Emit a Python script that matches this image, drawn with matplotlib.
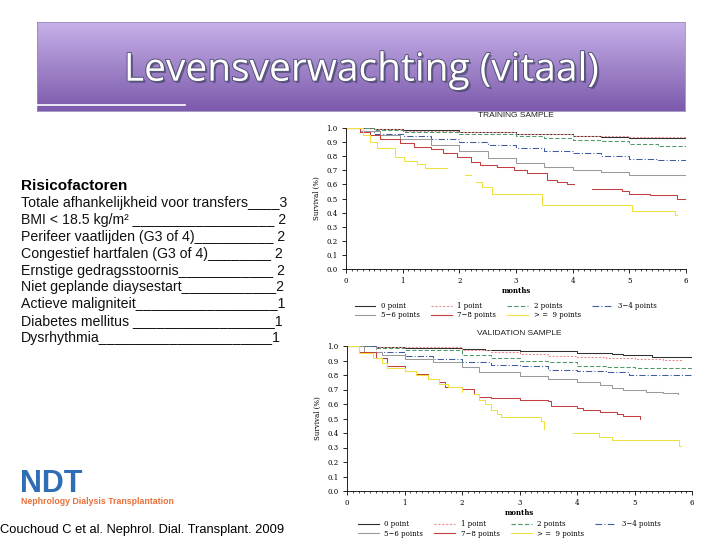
import matplotlib
matplotlib.use('Agg')
import matplotlib.pyplot as plt
import matplotlib.ticker as tck
import matplotlib.patheffects as pe
import numpy as np

# ---------- DATA ----------
title = 'Levensverwachting (vitaal)'
risk_header = 'Risicofactoren'
# label (before the underscores), score (after them)
risk_labels = [
    'Totale afhankelijkheid voor transfers',
    'BMI < 18.5 kg/m\u00b2 ',
    'Perifeer vaatlijden (G3 of 4)',
    'Congestief hartfalen (G3 of 4)',
    'Ernstige gedragsstoornis',
    'Niet geplande diaysestart',
    'Actieve maligniteit',
    'Diabetes mellitus ',
    'Dysrhythmia',
]
risk_scores = ['3', ' 2', ' 2', ' 2', ' 2', '2', '1', '1', '1']
citation = 'Couchoud C et al. Nephrol. Dial. Transplant. 2009'

groups = ['0 point', '1 point', '2 points', '3\u22124 points',
          '5\u22126 points', '7\u22128 points', '> =  9 points']

# training sample: (time, survival) step points per group
train_t = {
    '0 point':  [0, 0.5, 1, 2, 3, 4, 4.5, 5, 6],
    '1 point':  [0, 0.5, 1, 2, 3, 4, 5, 6],
    '2 points': [0, 0.5, 1, 2, 3, 3.5, 4, 4.5, 5, 5.5, 6],
    '3-4':      [0, 0.25, 0.5, 1, 1.5, 2, 2.5, 3, 3.5, 4, 4.5, 5, 5.5, 6],
    '5-6':      [0, 0.25, 0.6, 0.96, 1.5, 2, 2.5, 3, 3.5, 4, 4.5, 5, 6],
    '7-8a':     [0, 0.25, 0.43, 0.6, 0.96, 1.2, 1.5, 1.72, 1.96, 2.2, 2.37,
                 2.66, 2.96, 3.2, 3.55, 3.72, 3.9, 4.02],
    '7-8b':     [4.34, 4.87, 4.99, 5.37, 5.84, 6.0],
    '9a':       [0, 0.3, 0.43, 0.55, 0.87, 1.02, 1.25, 1.4, 1.78],
    '9b':       [2.1, 2.2],
    '9c':       [2.3, 2.4, 2.58, 3.46, 5.05, 5.81, 5.84],
}
train_s = {
    '0 point':  [1.0, 0.995, 0.985, 0.975, 0.96, 0.945, 0.935, 0.93, 0.92],
    '1 point':  [1.0, 0.99, 0.98, 0.97, 0.96, 0.945, 0.935, 0.915],
    '2 points': [1.0, 0.985, 0.975, 0.96, 0.94, 0.93, 0.915, 0.905, 0.89,
                 0.875, 0.86],
    '3-4':      [1.0, 0.98, 0.96, 0.94, 0.92, 0.90, 0.88, 0.86, 0.84, 0.82,
                 0.80, 0.78, 0.77, 0.75],
    '5-6':      [1.0, 0.98, 0.95, 0.92, 0.88, 0.84, 0.79, 0.75, 0.72, 0.70,
                 0.685, 0.665, 0.655],
    '7-8a':     [1.0, 0.97, 0.95, 0.925, 0.895, 0.865, 0.85, 0.82, 0.795, 0.76,
                 0.74, 0.72, 0.70, 0.68, 0.63, 0.615, 0.60, 0.60],
    '7-8b':     [0.565, 0.55, 0.53, 0.525, 0.50, 0.49],
    '9a':       [1.0, 0.95, 0.90, 0.855, 0.795, 0.765, 0.745, 0.715, 0.715],
    '9b':       [0.67, 0.67],
    '9c':       [0.62, 0.585, 0.535, 0.455, 0.41, 0.38, 0.38],
}

# validation sample
valid_t = {
    '0 point':  [0, 0.5, 1, 2, 2.4, 3, 4, 4.6, 4.8, 5.3, 6],
    '1 point':  [0, 0.5, 1, 2, 2.5, 3, 3.5, 4, 4.5, 5, 5.5, 5.8],
    '2 points': [0, 0.5, 1, 2, 2.5, 3, 3.5, 4, 4.5, 5, 6],
    '3-4':      [0, 0.5, 1, 1.5, 2, 2.5, 3, 3.5, 4, 4.5, 4.9, 6],
    '5-6':      [0, 0.3, 0.6, 1, 1.5, 2, 2.3, 3, 3.5, 4, 4.4, 4.6, 4.8, 5.2,
                 5.5, 5.75],
    '7-8':      [0, 0.2, 0.5, 0.7, 1, 1.2, 1.4, 1.6, 1.7, 2, 2.2, 2.3, 2.5, 3,
                 3.5, 3.55, 4, 4.1, 4.4, 4.7, 4.8, 5.1],
    '9a':       [0, 0.2, 0.45, 0.6, 0.7, 1, 1.2, 1.4, 1.6, 1.75, 2.0],
    '9b':       [2.2, 2.3, 2.4, 2.5, 2.6, 2.67, 3.38, 3.42],
    '9c':       [3.93, 4.39, 4.6, 5.64, 5.78, 5.8],
}
valid_s = {
    '0 point':  [1.0, 0.995, 0.985, 0.98, 0.975, 0.965, 0.955, 0.947, 0.935,
                 0.925, 0.915],
    '1 point':  [1.0, 0.995, 0.99, 0.975, 0.96, 0.947, 0.93, 0.925, 0.915,
                 0.91, 0.905, 0.90],
    '2 points': [1.0, 0.985, 0.97, 0.94, 0.92, 0.897, 0.89, 0.86, 0.855,
                 0.845, 0.833],
    '3-4':      [1.0, 0.96, 0.93, 0.91, 0.89, 0.87, 0.86, 0.837, 0.83, 0.82,
                 0.803, 0.79],
    '5-6':      [1.0, 0.96, 0.94, 0.913, 0.89, 0.853, 0.821, 0.794, 0.775,
                 0.752, 0.73, 0.71, 0.695, 0.68, 0.675, 0.667],
    '7-8':      [1.0, 0.96, 0.92, 0.86, 0.83, 0.805, 0.77, 0.75, 0.72, 0.706,
                 0.67, 0.649, 0.64, 0.63, 0.619, 0.585, 0.575, 0.56, 0.545,
                 0.53, 0.518, 0.50],
    '9a':       [1.0, 0.954, 0.917, 0.88, 0.849, 0.828, 0.80, 0.77, 0.74,
                 0.718, 0.683],
    '9b':       [0.67, 0.63, 0.603, 0.56, 0.53, 0.511, 0.482, 0.43],
    '9c':       [0.397, 0.37, 0.355, 0.35, 0.31, 0.31],
}

# ---------- STYLES ----------
styles = {
    '0 point':  dict(color='#303030', ls='-'),
    '1 point':  dict(color='#E88C8C', ls=(0, (2, 1.5))),
    '2 points': dict(color='#4E9A6A', ls=(0, (4, 2))),
    '3-4':      dict(color='#3E5EA0', ls=(0, (6, 2, 1, 2))),
    '5-6':      dict(color='#9A9A9A', ls='-'),
    '7-8':      dict(color='#C44040', ls='-'),
    '9':        dict(color='#F0E040', ls='-'),
}
legend_keys = ['0 point', '1 point', '2 points', '3-4', '5-6', '7-8', '9']
# legend is filled column by column, this gives rows 0,1,2,3-4 / 5-6,7-8,>=9
legend_order = [0, 4, 1, 5, 2, 6, 3]


def px(x0, y0, x1, y1):
    return [x0 / 720, 1 - y1 / 540, (x1 - x0) / 720, (y1 - y0) / 540]


def style_of(key):
    for k in ['7-8', '9']:
        if key.startswith(k):
            return styles[k]
    return styles[key]


def km_panel(ax, tt, ss, name, leg_y):
    for key in tt:
        st = style_of(key)
        ax.step(tt[key], ss[key], where='post', lw=0.75, **st)
    ax.set_xlim(0, 6)
    ax.set_ylim(0, 1.0)
    for s in ['top', 'right']:
        ax.spines[s].set_visible(False)
    for s in ['left', 'bottom']:
        ax.spines[s].set_linewidth(0.6)
    ax.set_xticks(range(7))
    ax.set_yticks(np.arange(0, 1.01, 0.1))
    ax.set_yticklabels(['%.1f' % v for v in np.arange(0, 1.01, 0.1)])
    ax.xaxis.set_minor_locator(tck.MultipleLocator(0.1))
    ax.tick_params(which='major', length=3, width=0.6, labelsize=5, pad=3)
    ax.tick_params(which='minor', length=1.5, width=0.5)
    for lab in ax.get_xticklabels() + ax.get_yticklabels():
        lab.set_family('DejaVu Serif')
    ax.set_xlabel('months', fontsize=5, family='DejaVu Serif', weight='bold',
                  labelpad=1)
    ax.set_ylabel('Survival (%)', fontsize=5, family='DejaVu Serif',
                  labelpad=4)
    ax.set_title(name, fontsize=6, family='Liberation Sans', pad=8,
                 color='#222222')
    handles = []
    for k in legend_keys:
        h, = ax.plot([], [], lw=0.8, **styles[k])
        handles.append(h)
    ax.legend([handles[i] for i in legend_order],
              [groups[i] for i in legend_order],
              loc='upper center', bbox_to_anchor=(0.47, leg_y),
              ncol=4, frameon=False, prop={'family': 'DejaVu Serif', 'size': 5},
              handlelength=3, columnspacing=1.6, labelspacing=0.2,
              handletextpad=0.8)


fig = plt.figure(figsize=(7.2, 5.4), dpi=100)

# ---------- TITLE BANNER ----------
ban = fig.add_axes(px(37, 22, 685, 111))
grad = np.linspace(0, 1, 100).reshape(-1, 1)
ban.imshow(grad, aspect='auto', extent=[0, 1, 0, 1], origin='upper',
           cmap=matplotlib.colors.LinearSegmentedColormap.from_list(
               'ban', ['#C6B0E8', '#7C5AAC']))
ban.set_xlim(0, 1)
ban.set_ylim(0, 1)
ban.set_xticks([])
ban.set_yticks([])
for s in ban.spines.values():
    s.set_color('#9A8AB8')
    s.set_linewidth(0.6)
fig.text(361 / 720, 1 - 80.7 / 540, title, ha='center', va='baseline',
         fontsize=28, family='Open Sans', color='white',
         path_effects=[pe.withSimplePatchShadow(offset=(1.5, -1.5),
                                                shadow_rgbFace='#3A3A5A',
                                                alpha=0.6),
                       pe.withStroke(linewidth=1.4, foreground='#55557A')])
fig.add_artist(plt.Line2D([37 / 720, 185 / 720], [1 - 105 / 540, 1 - 105 / 540],
                          color='white', lw=1.2))

# ---------- RISK FACTORS ----------
fig.text(21 / 720, 1 - 190 / 540, risk_header, fontsize=11, weight='bold',
         family='Liberation Sans', va='baseline')
renderer = fig.canvas.get_renderer()
for i, (lab, score) in enumerate(zip(risk_labels, risk_scores)):
    y = 1 - (207.5 + i * 16.8) / 540
    t = fig.text(21 / 720, y, lab, fontsize=10.2, family='Liberation Sans',
                 va='baseline', color='#111111')
    # pad with underscores until the score lands at the right edge (~288 px)
    n = 1
    while True:
        t.set_text(lab + '_' * (n + 1) + score)
        if t.get_window_extent(renderer).x1 > 288:
            break
        n += 1
    t.set_text(lab + '_' * n + score)

# ---------- NDT LOGO ----------
fig.text(20 / 720, 1 - 484 / 540, 'NDT', fontsize=22, weight='bold',
         family='Liberation Sans', color='#2F6DB5', va='center')
fig.text(21 / 720, 1 - 502 / 540, 'Nephrology Dialysis Transplantation',
         fontsize=6.3, weight='bold', family='Liberation Sans',
         color='#E8703A', va='center')
fig.text(0, 1 - 530 / 540, citation, fontsize=9.3, family='Liberation Sans',
         va='center')

# ---------- KM PLOTS ----------
ax0 = fig.add_axes(px(346, 128, 686, 269))
km_panel(ax0, train_t, train_s, 'TRAINING SAMPLE', -0.19)
ax1 = fig.add_axes(px(347, 346, 692, 491))
km_panel(ax1, valid_t, valid_s, 'VALIDATION SAMPLE', -0.16)

fig.savefig('out.png', dpi=100)
